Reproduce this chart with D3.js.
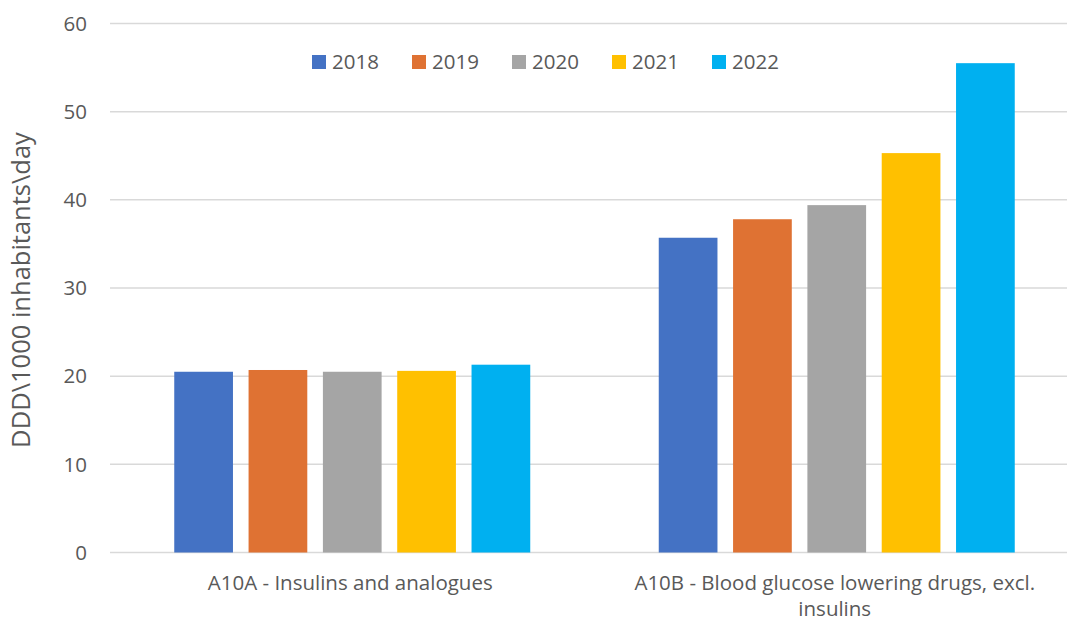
<!DOCTYPE html>
<html><head><meta charset="utf-8">
<script src="https://cdn.jsdelivr.net/npm/d3@7"></script>
<style>body{margin:0;background:#fff;} text{font-family:"Open Sans",sans-serif;fill:#595959;}</style>
</head><body>
<svg id="chart" width="1067" height="621"></svg>
<script>
const categories = ["A10A - Insulins and analogues", "A10B - Blood glucose lowering drugs, excl. insulins"];
const years = ["2018", "2019", "2020", "2021", "2022"];
const colors = ["#4472C4", "#DF7233", "#A5A5A5", "#FFC000", "#00B0F0"];
const v2018 = [20.5, 35.7];
const v2019 = [20.7, 37.8];
const v2020 = [20.5, 39.4];
const v2021 = [20.6, 45.3];
const v2022 = [21.3, 55.5];
const yTicks = [0, 10, 20, 30, 40, 50, 60];
const yTitle = "DDD\\1000 inhabitants\\day";
const labelLines = [["A10A - Insulins and analogues"], ["A10B - Blood glucose lowering drugs, excl.", "insulins"]];

(function () {
const series = [v2018, v2019, v2020, v2021, v2022];
const svg = d3.select("#chart");
const mLeft = 110, mRight = 1079, mTop = 23.5, mBottom = 552.5;

const y = d3.scaleLinear().domain([0, 60]).range([mBottom, mTop]);
const x0 = d3.scaleBand().domain(categories).range([mLeft, mRight]).paddingInner(0).paddingOuter(0);
const groupW = 356;
const x1 = d3.scaleBand().domain(years).range([0, groupW]).paddingInner(0.21).paddingOuter(0);

svg.append("g").selectAll("line").data(yTicks).join("line")
  .attr("x1", mLeft).attr("x2", 1067)
  .attr("y1", d => y(d)).attr("y2", d => y(d))
  .attr("stroke", "#D9D9D9").attr("stroke-width", 1.5);

svg.append("g").selectAll("text").data(yTicks).join("text")
  .attr("x", 87).attr("y", d => y(d)).attr("dy", "0.35em")
  .attr("text-anchor", "end").attr("font-size", 20.5).text(d => d);

const gGroups = svg.append("g").selectAll("g").data(categories).join("g")
  .attr("transform", c => `translate(${x0(c) + (x0.bandwidth() - groupW) / 2},0)`);
gGroups.selectAll("rect").data((c, ci) => years.map((yr, si) => ({yr, v: series[si][ci], col: colors[si]})))
  .join("rect")
  .attr("x", d => x1(d.yr)).attr("width", x1.bandwidth())
  .attr("y", d => y(d.v)).attr("height", d => y(0) - y(d.v))
  .attr("fill", d => d.col);

labelLines.forEach((lines, i) => {
  const c = categories[i];
  const cx = x0(c) + x0.bandwidth() / 2 - 2;
  lines.forEach((ln, j) => {
    svg.append("text").attr("text-anchor", "middle").attr("font-size", 20.5)
      .attr("x", cx).attr("y", 590 + j * 26).text(ln);
  });
});

svg.append("text").attr("transform", "translate(30,290) rotate(-90)")
  .attr("text-anchor", "middle").attr("font-size", 25.5).text(yTitle);

const lg = svg.append("g").selectAll("g").data(years).join("g")
  .attr("transform", (d, i) => `translate(${312 + i * 100},55)`);
lg.append("rect").attr("width", 14).attr("height", 14).attr("fill", (d, i) => colors[i]);
lg.append("text").attr("x", 20).attr("y", 7).attr("dy", "0.36em").attr("font-size", 20.5).text(d => d);
})();
</script>
</body></html>
